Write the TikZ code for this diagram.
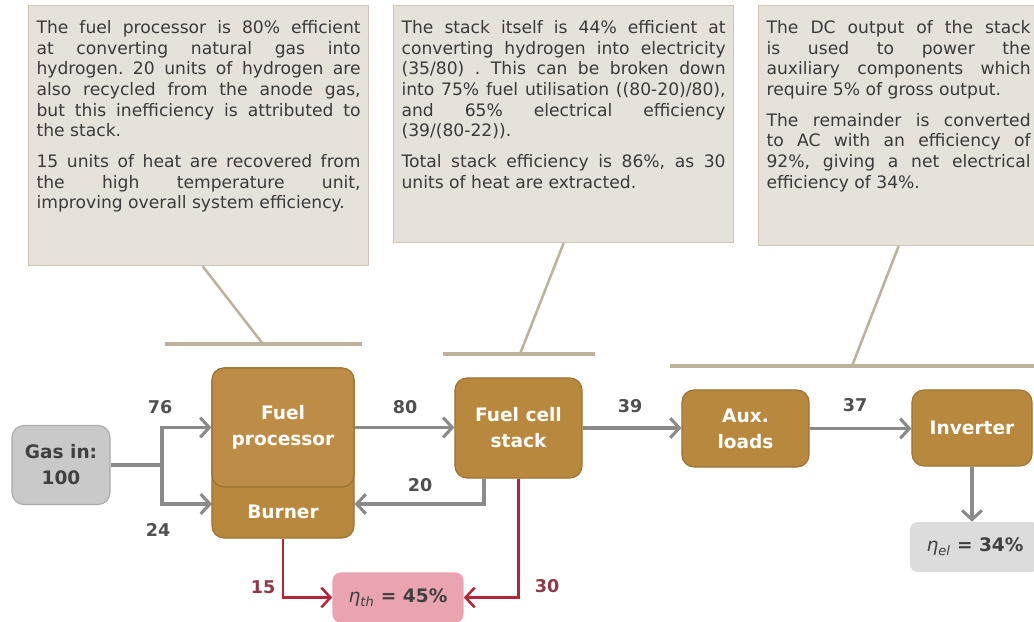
\documentclass[tikz,border=0pt]{standalone}
\usepackage{fontspec}
\setmainfont{DejaVu Sans}
\usetikzlibrary{arrows.meta}

\definecolor{unitbrown}{HTML}{B8883F}
\definecolor{unitedge}{HTML}{9C7132}
\definecolor{procbrown}{HTML}{BD8D48}
\definecolor{flowgray}{HTML}{8A8A8A}
\definecolor{heatred}{HTML}{B3263A}
\definecolor{heatpink}{HTML}{E9A4AF}
\definecolor{gasgray}{HTML}{C9C9C9}
\definecolor{elgray}{HTML}{DCDCDC}
\definecolor{notefill}{HTML}{E6E2DA}
\definecolor{noteedge}{HTML}{CFC6B5}
\definecolor{leadercol}{HTML}{BDB19B}
\definecolor{numgray}{HTML}{505050}
\definecolor{numred}{HTML}{8E3A4A}
\definecolor{notetext}{HTML}{3A3A3A}

\def\noteFont{\fontsize{12.2}{14.7}\selectfont\frenchspacing}
\def\unitFont{\fontsize{13.2}{18.5}\selectfont\bfseries}
\def\numFont{\fontsize{12.5}{15}\selectfont\bfseries}
\def\fullline#1{\hbox to \hsize{#1}}
\def\lastline#1{\hbox{#1}}
\def\parGap{\vskip 7pt}

\begin{document}
\begin{tikzpicture}[x=0.025cm, y=-0.025cm,
  >={Straight Barb[length=6.5pt,width=14pt]},
  notebox/.style={anchor=north west, fill=notefill, draw=noteedge, line width=0.8pt,
    inner xsep=0.2cm, inner ysep=0.2cm, text=notetext},
  unitbox/.style={rounded corners=0.3cm, fill=unitbrown, draw=unitedge, line width=0.8pt,
    text=white, align=center, inner sep=0pt, font=\unitFont},
  resultbox/.style={rounded corners=0.2cm, inner sep=0pt, align=center, font=\unitFont},
  flowline/.style={draw=flowgray, line width=2.2pt},
  heatline/.style={draw=heatred, line width=1.8pt},
  numlabel/.style={text=numgray, font=\numFont},
  barline/.style={draw=leadercol, line width=3.5pt},
  leaderline/.style={draw=leadercol, line width=1.8pt}]
  \useasboundingbox (0,0) rectangle (1034,622);

  % explanation boxes
  \node[notebox] (noteProc) at (28,5) {\vbox to 6.1cm{\hsize=8.1cm \noteFont \vskip 5pt
    \fullline{The fuel processor is 80\% efficient}
    \fullline{at converting natural gas into}
    \fullline{hydrogen. 20 units of hydrogen are}
    \fullline{also recycled from the anode gas,}
    \fullline{but this inefficiency is attributed to}
    \lastline{the stack.}
    \parGap
    \fullline{15 units of heat are recovered from}
    \fullline{the high temperature unit,}
    \lastline{improving overall system efficiency.}
    \vfill}};
  \node[notebox] (noteStack) at (393,5) {\vbox to 5.525cm{\hsize=8.1cm \noteFont \vskip 5pt
    \fullline{The stack itself is 44\% efficient at}
    \fullline{converting hydrogen into electricity}
    \fullline{(35/80) . This can be broken down}
    \fullline{into 75\% fuel utilisation ((80-20)/80),}
    \fullline{and 65\% electrical efficiency}
    \lastline{(39/(80-22)).}
    \parGap
    \fullline{Total stack efficiency is 86\%, as 30}
    \lastline{units of heat are extracted.}
    \vfill}};
  \node[notebox] (noteOut) at (758,5) {\vbox to 5.6cm{\hsize=6.6cm \noteFont \vskip 5pt
    \fullline{The DC output of the stack}
    \fullline{is used to power the}
    \fullline{auxiliary components which}
    \lastline{require 5\% of gross output.}
    \parGap
    \fullline{The remainder is converted}
    \fullline{to AC with an efficiency of}
    \fullline{92\%, giving a net electrical}
    \lastline{efficiency of 34\%.}
    \vfill}};

  % leaders
  \coordinate (bar1L) at (165,344);
  \coordinate (bar1R) at (362,344);
  \coordinate (bar1T) at (263,344);
  \coordinate (bar2L) at (443,354);
  \coordinate (bar2R) at (595,354);
  \coordinate (bar2T) at (520,354);
  \coordinate (bar3L) at (670,366);
  \coordinate (bar3R) at (1040,366);
  \coordinate (bar3T) at (852,366);
  \draw[barline] (bar1L) -- (bar1R);
  \draw[barline] (bar2L) -- (bar2R);
  \draw[barline] (bar3L) -- (bar3R);
  \draw[leaderline] ([xshift=0.1cm]noteProc.south) -- (bar1T);
  \draw[leaderline] (noteStack.south) -- (bar2T);
  \draw[leaderline] (noteOut.south) -- (bar3T);

  % units
  \node[unitbox, fill=gasgray, draw=gasgray!85!black, text=black!75, minimum width=2.45cm, minimum height=1.975cm] (gasin) at (61,465) {Gas in:\\100};
  \node[unitbox, minimum width=3.55cm, minimum height=4.25cm] (burner) at (283,453) {};
  \node[text=white, font=\unitFont] (burnerText) at (283,512) {Burner};
  \node[unitbox, fill=procbrown, minimum width=3.55cm, minimum height=2.975cm] (fuelProc) at (283,427.5) {Fuel\\processor};
  \node[unitbox, minimum width=3.175cm, minimum height=2.5cm] (stack) at (518.5,428) {Fuel cell\\stack};
  \node[unitbox, minimum width=3.175cm, minimum height=1.925cm] (aux) at (745.5,428.5) {Aux.\\loads};
  \node[unitbox, minimum width=3cm, minimum height=1.9cm] (inverter) at (972,428) {Inverter};
  \node[resultbox, fill=elgray, text=black!75, minimum width=3.25cm, minimum height=1.25cm] (etaEl) at (975,547) {{\mdseries\itshape η}\textsubscript{\mdseries\itshape el} = 34\%};
  \node[resultbox, fill=heatpink, text=black!75, minimum width=3.275cm, minimum height=1.25cm] (etaTh) at (398,597.5) {{\mdseries\itshape η}\textsubscript{\mdseries\itshape th} = 45\%};

  % flows
  \coordinate (split) at (162,465);
  \coordinate (burnIn) at (212,504);
  \draw[flowline] (gasin.east) -- (split);
  \draw[flowline,->] (split) |- (fuelProc.west);
  \draw[flowline,->] (split) |- (burnIn);
  \draw[flowline,->] (fuelProc.east) -- (fuelProc.east -| stack.west);
  \draw[flowline,->] (stack.east) -- (stack.east -| aux.west);
  \draw[flowline,->] (aux.east) -- (aux.east -| inverter.west);
  \draw[flowline,->] ([xshift=-0.8625cm]stack.south) |- (burnIn -| burner.east);
  \draw[flowline,->] (inverter.south) -- (inverter.south |- etaEl.north);
  \draw[heatline,->] (burner.south) |- (etaTh.west);
  \draw[heatline,->] (stack.south) |- (etaTh.east);

  % flow values
  \node[numlabel] (n76) at (160,407) {76};
  \node[numlabel] (n24) at (158,530) {24};
  \node[numlabel] (n80) at (405,407) {80};
  \node[numlabel] (n39) at (630,406) {39};
  \node[numlabel] (n37) at (855,405) {37};
  \node[numlabel] (n20) at (420,485) {20};
  \node[numlabel, text=numred] (n15) at (263,587) {15};
  \node[numlabel, text=numred] (n30) at (547,586) {30};
\end{tikzpicture}
\end{document}
